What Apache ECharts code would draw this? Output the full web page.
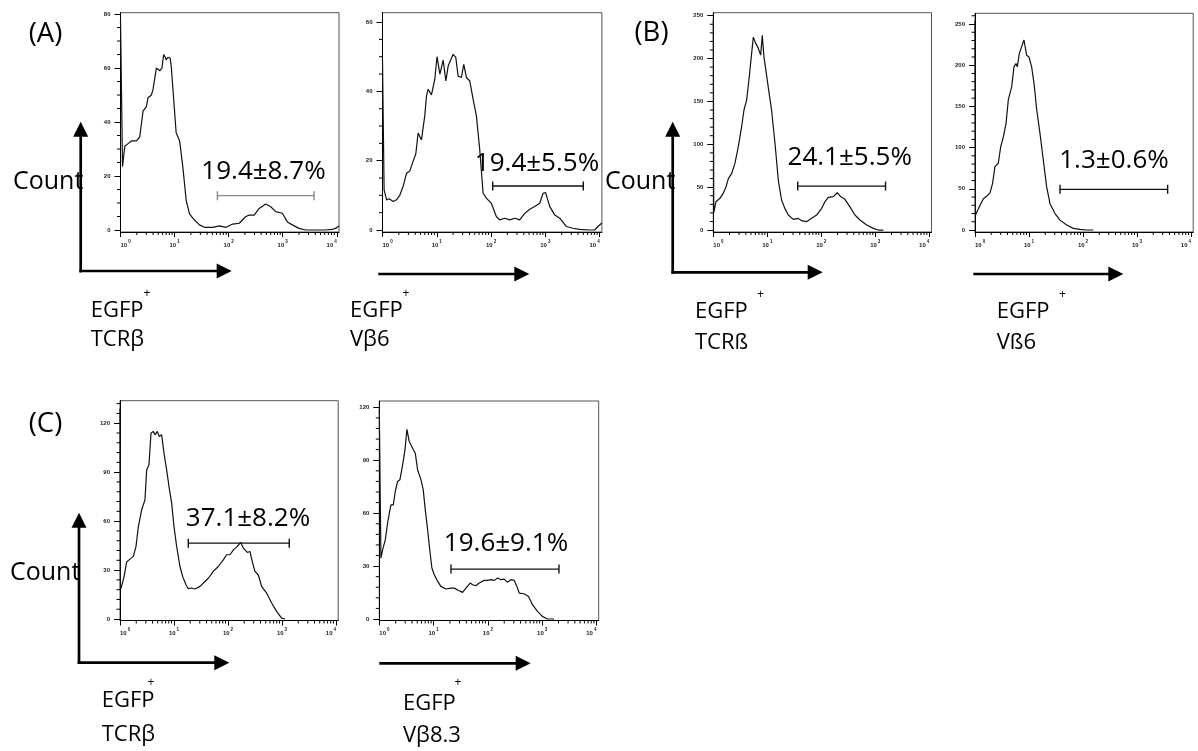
<!DOCTYPE html>
<html><head><meta charset="utf-8">
<script src="https://cdn.jsdelivr.net/npm/echarts@6/dist/echarts.min.js"></script>
<style>html,body{margin:0;padding:0;background:#fff}#c{width:1198px;height:751px}</style>
</head><body><div id="c"></div>
<script>
// ---------------- data ----------------
const xTickValues = [1, 10, 100, 1000, 10000];
const xTickExps = ['0', '1', '2', '3', '4'];
const xMinorValues = [2,3,4,5,6,7,8,9,20,30,40,50,60,70,80,90,200,300,400,500,600,700,800,900,2000,3000,4000,5000,6000,7000,8000,9000];

// Panel A1: EGFP+ TCRβ
const a1X = [1, 1.09, 1.2, 1.38, 1.59, 1.97, 2.27, 2.61, 3.01, 3.23, 3.72, 3.99, 4.6, 5.3, 5.85, 6.28, 6.73, 7.03, 7.54, 8.32, 8.69, 10, 10.7, 12.4, 14.2, 16.4, 18.9, 23.3, 28.8, 35.7, 50.8, 67.3, 89.3, 119, 157, 208, 240, 297, 367, 486, 601, 743, 986, 1220, 1510, 2000, 2650, 6180, 8200, 9440, 11000];
const a1Y = [78, 23.5, 31, 32, 33, 33, 34.5, 44, 45.7, 49, 50, 52, 60, 59, 60, 65, 64, 63, 64, 63.6, 60.5, 44, 36, 33, 23.5, 11, 6, 3.7, 1.9, 1, 1, 1.5, 1, 2.2, 2.5, 5, 5.5, 5.5, 8, 9.6, 8.6, 6.8, 6.2, 3, 1.9, 0.6, 0, 0, 0.2, 0.6, 1.5];
const a1YTicks = [0, 20, 40, 60, 80];
const a1YMinor = [5,10,15,25,30,35,45,50,55,65,70,75];
const a1Gate = [62, 3800];
const a1GateY = 12.7;
const a1Label = '19.4±8.7%';

// Panel A2: EGFP+ Vβ6
const a2X = [1, 1.07, 1.19, 1.33, 1.57, 1.81, 2.08, 2.4, 2.77, 3.18, 3.56, 4.11, 4.53, 5.22, 6.01, 6.45, 6.92, 7.98, 9.19, 10.1, 11.4, 13.1, 14.7, 16.2, 20, 22.4, 24.7, 28.4, 31.4, 35.2, 40.5, 46.7, 53.7, 61.8, 71.3, 82, 101, 125, 144, 179, 221, 273, 337, 417, 515, 637, 787, 906, 1010, 1200, 1490, 1840, 2440, 3230, 4280, 6550, 8090, 9310, 11000];
const a2Y = [49, 11.6, 8.7, 9, 8.2, 8.7, 10, 12.6, 16.4, 17, 19.3, 22, 28, 26, 33, 38.6, 40.6, 39, 43.5, 50, 45, 49, 43, 47.3, 50.7, 49.8, 44.4, 44, 47.8, 44, 43, 37.7, 32.9, 23.2, 10.6, 9.2, 7.7, 3.9, 2.9, 3.4, 2.9, 3.4, 2.9, 4.8, 6, 6.8, 7.7, 10.6, 10.8, 6.8, 4.3, 3.4, 1, 0.5, 0.2, 0, 0, 1, 2];
const a2YTicks = [0, 20, 40, 60];
const a2YMinor = [5,10,15,25,30,35,45,50,55];
const a2Gate = [107, 5000];
const a2GateY = 12.7;
const a2Label = '19.4±5.5%';

// Panel B1: EGFP+ TCRß
const b1X = [1, 1.02, 1.12, 1.33, 1.53, 1.72, 1.9, 2.19, 2.52, 2.9, 3.35, 3.7, 4.14, 4.57, 5.13, 5.51, 6.08, 6.81, 7.53, 8.08, 8.67, 9.31, 10.4, 12, 13.9, 16, 18.4, 21.2, 24.5, 30.3, 37.5, 43.2, 53.5, 66.2, 82, 101, 117, 135, 167, 198, 228, 274, 340, 420, 520, 692, 918, 1140, 1410];
const b1Y = [245, 20, 33, 37, 43, 50.5, 60, 66, 78, 97, 120.5, 140, 151.6, 175, 206, 225, 218, 212, 204, 227, 202, 188.6, 167, 140, 101, 58, 35, 25, 17.5, 12.4, 13.6, 10.9, 9.7, 13.6, 17.5, 25, 33, 38, 39, 43.5, 39, 35.8, 27, 17.5, 11.7, 5.8, 1.9, 0, 0];
const b1YTicks = [0, 50, 100, 150, 200, 250];
const b1YMinor = [10,20,30,40,60,70,80,90,110,120,130,140,160,170,180,190,210,220,230,240];
const b1Gate = [36.6, 1550];
const b1GateY = 51.3;
const b1Label = '24.1±5.5%';

// Panel B2: EGFP+ Vß6
const b2X = [1, 1.02, 1.07, 1.24, 1.43, 1.64, 1.9, 2.12, 2.34, 2.7, 2.99, 3.35, 3.75, 4.14, 4.78, 5.27, 5.74, 6.08, 6.62, 7.31, 8.08, 9.05, 10, 11.2, 12.4, 13.9, 16, 18.4, 21.2, 24.5, 30.3, 37.5, 49.9, 66.2, 88, 117, 155];
const b2Y = [254, 18.2, 20, 30, 38, 41, 45, 57, 77, 81, 101, 113, 129, 158, 174, 198, 202, 198, 214, 222.5, 230.6, 212, 210, 198, 178, 146, 117, 85, 52.6, 32, 20, 12, 6, 2, 0.8, 0, 0];
const b2YTicks = [0, 50, 100, 150, 200, 250];
const b2YMinor = [10,20,30,40,60,70,80,90,110,120,130,140,160,170,180,190,210,220,230,240,260];
const b2Gate = [37.5, 3700];
const b2GateY = 49.4;
const b2Label = '1.3±0.6%';

// Panel C1: EGFP+ TCRβ
const c1X = [1, 1.02, 1.07, 1.19, 1.33, 1.53, 1.77, 1.98, 2.19, 2.52, 2.9, 3.12, 3.44, 3.75, 4.14, 4.45, 4.91, 5.35, 5.91, 6.53, 7.31, 8.08, 9.05, 10, 11.2, 12.9, 14.5, 16.7, 18.4, 21.2, 24.5, 30.3, 37.5, 43.2, 53.5, 66.2, 82, 94.4, 109, 126, 149, 172, 192, 228, 255, 286, 316, 365, 420, 520, 644, 796, 986, 1140];
const c1Y = [129, 18, 20, 26, 35, 36.7, 38.4, 44.5, 56.7, 67, 73, 91.4, 94.5, 113.9, 115, 112.9, 115, 111.8, 112.9, 101.6, 91.4, 81.2, 71, 56.7, 44.5, 32.2, 26, 21, 18.6, 19, 18.4, 20, 23, 25, 29.2, 32.2, 36.3, 39.4, 39.4, 42.4, 44.5, 47, 43.5, 40.8, 41.4, 34.3, 29.2, 27, 20, 15.9, 9.8, 4.7, 0.6, 0];
const c1YTicks = [0, 30, 60, 90, 120];
const c1YMinor = [6,12,18,24,36,42,48,54,66,72,78,84,96,102,108,114,126,132];
const c1Gate = [18.4, 1365];
const c1GateY = 46.5;
const c1Label = '37.1±8.2%';

// Panel C2: EGFP+ Vβ8.3
const c2X = [1, 1.07, 1.15, 1.29, 1.42, 1.53, 1.64, 1.81, 1.97, 2.17, 2.4, 2.69, 2.97, 3.23, 3.56, 4.11, 4.6, 5.08, 5.85, 6.45, 7.03, 7.76, 8.57, 9.31, 10.3, 11.9, 13.6, 16.9, 20.8, 24, 28.8, 34.2, 39.4, 47.3, 52.2, 60.1, 69.2, 85.6, 98.6, 114, 131, 151, 173, 200, 230, 265, 305, 337, 378, 467, 560, 664, 820, 1010, 1250, 1660];
const c2Y = [118.9, 34.5, 39.2, 45, 54.3, 60, 64.7, 64.7, 72.3, 78, 79, 87.4, 95.8, 107.5, 100.6, 96.8, 94, 84.5, 79, 73.2, 61.9, 50.6, 38.3, 28.9, 25.1, 21.3, 18.5, 17, 17.5, 17.5, 16.2, 15.1, 17.5, 20.4, 19.4, 18.9, 20.4, 21.9, 21.9, 22.3, 21.9, 23.2, 22.3, 22.6, 20.8, 22.3, 21.9, 18.9, 14.7, 14.3, 12.8, 8.1, 4.3, 1.5, 0, 0];
const c2YTicks = [0, 30, 60, 90, 120];
const c2YMinor = [6,12,18,24,36,42,48,54,66,72,78,84,96,102,108,114];
const c2Gate = [20.9, 2040];
const c2GateY = 28.3;
const c2Label = '19.6±9.1%';

// ---------------- layout ----------------
const xMin = 1, xMax = 11000;
const panels = [
  {x:a1X, y:a1Y, yt:a1YTicks, ym:a1YMinor, gate:a1Gate, gy:a1GateY, gc:'#8a8a8a', left:120.5, width:218.5, top:12.7, axisY:232, ymin:-0.74, ymax:80.5},
  {x:a2X, y:a2Y, yt:a2YTicks, ym:a2YMinor, gate:a2Gate, gy:a2GateY, gc:'#111', left:382.5, width:219.4, top:12.7, axisY:232, ymin:-0.58, ymax:62.7},
  {x:b1X, y:b1Y, yt:b1YTicks, ym:b1YMinor, gate:b1Gate, gy:b1GateY, gc:'#111', left:713.3, width:218.2, top:12.7, axisY:232, ymin:-2.3, ymax:253.5},
  {x:b2X, y:b2Y, yt:b2YTicks, ym:b2YMinor, gate:b2Gate, gy:b2GateY, gc:'#111', left:975, width:218.2, top:13.3, axisY:232, ymin:-2.4, ymax:263},
  {x:c1X, y:c1Y, yt:c1YTicks, ym:c1YMinor, gate:c1Gate, gy:c1GateY, gc:'#111', left:120, width:218.2, top:400.7, axisY:620.5, ymin:-0.9, ymax:133.8},
  {x:c2X, y:c2Y, yt:c2YTicks, ym:c2YMinor, gate:c2Gate, gy:c2GateY, gc:'#111', left:379.3, width:219.4, top:401, axisY:620.5, ymin:-0.85, ymax:123.6}
];

function fmtX(v) {
  const i = xTickValues.findIndex(t => Math.abs(t - v) / t < 1e-6);
  if (i < 0) return '';
  return '{b|10}{s|' + xTickExps[i] + '}';
}

const grids = [], xAxes = [], yAxes = [], series = [];
panels.forEach((p, i) => {
  grids.push({left:p.left, top:p.top, width:p.width, height:p.axisY - p.top, show:true, borderColor:'#555', borderWidth:1, backgroundColor:'transparent', containLabel:false});
  xAxes.push({gridIndex:i, type:'log', logBase:10, min:xMin, max:xMax, position:'bottom',
    splitLine:{show:false}, minorTick:{show:false}, minorSplitLine:{show:false},
    axisLine:{show:true, onZero:false, lineStyle:{color:'#000', width:1}},
    axisTick:{show:true, length:5, customValues:xTickValues, lineStyle:{color:'#000', width:1}},
    axisLabel:{show:true, customValues:xTickValues, margin:7, alignMinLabel:'left', alignMaxLabel:'right', formatter:fmtX,
      rich:{b:{fontSize:6, fontWeight:'bold', fontFamily:'Liberation Sans', color:'#222', lineHeight:9, verticalAlign:'bottom'},
            s:{fontSize:4.5, fontWeight:'bold', fontFamily:'Liberation Sans', color:'#222', lineHeight:9, verticalAlign:'top', padding:[0,0,0,1]}}}
  });
  yAxes.push({gridIndex:i, type:'value', min:p.ymin, max:p.ymax, position:'left',
    splitLine:{show:false}, minorTick:{show:false},
    axisLine:{show:true, onZero:false, lineStyle:{color:'#000', width:1}},
    axisTick:{show:true, length:6, customValues:p.yt, lineStyle:{color:'#000', width:1}},
    axisLabel:{show:true, customValues:p.yt, margin:10, fontSize:6, fontWeight:'bold', fontFamily:'Liberation Sans', color:'#222'}
  });
  // histogram curve
  series.push({type:'line', xAxisIndex:i, yAxisIndex:i, data:p.x.map((v, k) => [v, p.y[k]]),
    showSymbol:false, symbol:'none', smooth:false, clip:true, silent:true,
    lineStyle:{color:'#111', width:1.2}});
  // gate bar
  series.push({type:'line', xAxisIndex:i, yAxisIndex:i, data:[[p.gate[0], p.gy], [p.gate[1], p.gy]],
    showSymbol:true, symbol:'rect', symbolSize:[1.4, 9], silent:true,
    itemStyle:{color:p.gc}, lineStyle:{color:p.gc, width:1.3}});
  // minor ticks on the log x axis
  series.push({type:'custom', xAxisIndex:i, yAxisIndex:i, clip:false, silent:true,
    data:xMinorValues.map(v => [v, p.ymin]),
    renderItem:(params, api) => {
      const pt = api.coord([api.value(0), api.value(1)]);
      return {type:'line', shape:{x1:pt[0], y1:pt[1], x2:pt[0], y2:pt[1] + 3}, style:{stroke:'#000', lineWidth:1}};
    }});
  // minor ticks on the y axis
  series.push({type:'custom', xAxisIndex:i, yAxisIndex:i, clip:false, silent:true,
    data:p.ym.map(v => [xMin, v]),
    renderItem:(params, api) => {
      const pt = api.coord([api.value(0), api.value(1)]);
      return {type:'line', shape:{x1:pt[0] - 3.5, y1:pt[1], x2:pt[0], y2:pt[1]}, style:{stroke:'#000', lineWidth:1}};
    }});
});

// ---------------- annotations ----------------
const FONT = '"Open Sans", "Noto Sans", sans-serif';
function txt(t, x, y, size, align) {
  return {type:'text', silent:true, style:{text:t, x:x, y:y, font:size + 'px ' + FONT, fill:'#000',
    textAlign:align || 'left', textVerticalAlign:'middle', align:align || 'left', verticalAlign:'middle'}};
}
function arrow(x1, y1, x2, y2) {
  const dx = x2 - x1, dy = y2 - y1, L = Math.hypot(dx, dy), ux = dx / L, uy = dy / L;
  const hl = 15, hw = 7.5;
  const bx = x2 - ux * hl, by = y2 - uy * hl;
  return [
    {type:'line', silent:true, shape:{x1:x1, y1:y1, x2:bx + ux, y2:by + uy}, style:{stroke:'#000', lineWidth:2.7}},
    {type:'polygon', silent:true, shape:{points:[[x2, y2], [bx - uy * hw, by + ux * hw], [bx + uy * hw, by - ux * hw]]}, style:{fill:'#000'}}
  ];
}
const graphics = [].concat(
  arrow(80.7, 272.4, 80.7, 121.7), arrow(79.4, 271, 231.7, 271),
  arrow(378.3, 274, 529.3, 274),
  arrow(672.7, 273.6, 672.7, 121.7), arrow(671.4, 272.3, 822.7, 272.3),
  arrow(973.3, 274, 1123.3, 274),
  arrow(79, 664, 79, 512.7), arrow(77.7, 662.7, 229.3, 662.7),
  arrow(379.3, 663.3, 530.7, 663.3),
  [
    txt('(A)', 45.5, 34, 27.5, 'center'), txt('(B)', 651.5, 33.5, 27.5, 'center'), txt('(C)', 45.5, 423.7, 27.5, 'center'),
    txt('Count', 13, 182, 25), txt('Count', 605, 182, 25), txt('Count', 10, 573, 25),
    txt(a1Label, 263.5, 172, 26, 'center'), txt(a2Label, 537, 164, 26, 'center'),
    txt(b1Label, 849.7, 158, 26, 'center'), txt(b2Label, 1114, 161, 26, 'center'),
    txt(c1Label, 248, 519, 26, 'center'), txt(c2Label, 506, 544, 26, 'center'),
    txt('EGFP', 90.7, 310.5, 22), txt('+', 143.5, 293.5, 12), txt('TCRβ', 90.7, 340, 22),
    txt('EGFP', 350, 310.5, 22), txt('+', 402.5, 293.5, 12), txt('Vβ6', 350, 340, 22),
    txt('EGFP', 695, 312, 22), txt('+', 757, 294.5, 12), txt('TCRß', 695, 342.5, 22),
    txt('EGFP', 996.7, 312, 22), txt('+', 1059, 294.5, 12), txt('Vß6', 996.7, 342.5, 22),
    txt('EGFP', 101.7, 700.5, 22), txt('+', 147.5, 683, 12), txt('TCRβ', 101.7, 734.5, 22),
    txt('EGFP', 403, 703.5, 22), txt('+', 454.5, 683, 12), txt('Vβ8.3', 403, 735.5, 22)
  ]
);

const chart = echarts.init(document.getElementById('c'), null, {renderer:'canvas', width:1198, height:751});
chart.setOption({
  animation:false,
  backgroundColor:'#fff',
  grid:grids, xAxis:xAxes, yAxis:yAxes, series:series,
  graphic:{elements:graphics}
});
</script>
</body></html>
